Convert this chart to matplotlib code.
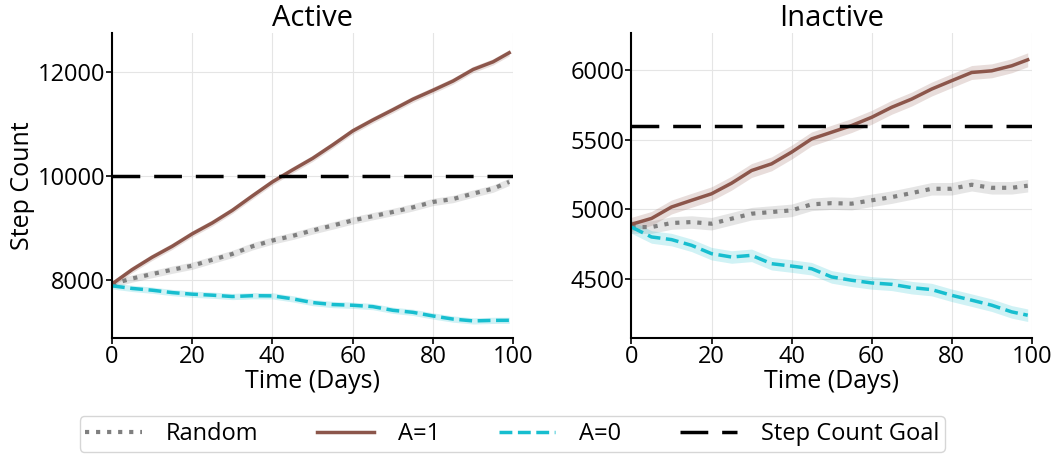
import matplotlib
matplotlib.use('Agg')
import matplotlib.pyplot as plt
import numpy as np

plt.rcParams['font.family'] = ['Open Sans', 'DejaVu Sans']

days = [0, 5, 10, 15, 20, 25, 30, 35, 40, 45, 50, 55, 60, 65, 70, 75, 80, 85, 90, 95, 99]

# Active group
act_random = [7923, 8030, 8116, 8200, 8277, 8390, 8503, 8650, 8761, 8850, 8955, 9050, 9148,
              9230, 9310, 9400, 9503, 9560, 9664, 9760, 9890]
act_a1 = [7923, 8200, 8439, 8650, 8890, 9100, 9342, 9620, 9890, 10120, 10342, 10600, 10870,
          11080, 11277, 11480, 11652, 11830, 12052, 12200, 12374]
act_a0 = [7890, 7840, 7806, 7760, 7729, 7710, 7684, 7700, 7697, 7640, 7568, 7530, 7516,
          7490, 7419, 7380, 7310, 7250, 7215, 7225, 7226]
act_goal = 10000

# Inactive group
ina_random = [4873, 4873, 4902, 4909, 4897, 4933, 4969, 4981, 4993, 5036, 5045, 5041, 5065,
              5088, 5117, 5148, 5148, 5177, 5155, 5155, 5170]
ina_a1 = [4893, 4935, 5017, 5065, 5112, 5188, 5279, 5327, 5411, 5506, 5554, 5602, 5661,
          5733, 5792, 5864, 5924, 5983, 5995, 6031, 6074]
ina_a0 = [4873, 4802, 4783, 4742, 4682, 4658, 4670, 4610, 4593, 4574, 4515, 4491, 4472,
          4462, 4438, 4424, 4383, 4348, 4312, 4264, 4240]
ina_goal = 5600

# confidence band half-widths (estimated)
act_ci = {'random': 70, 'a1': 60, 'a0': 60}
ina_ci = {'random': 45, 'a1': 50, 'a0': 45}

panels = [
    ('Active', act_random, act_a1, act_a0, act_goal, act_ci, [8000, 10000, 12000], (6885, 12750)),
    ('Inactive', ina_random, ina_a1, ina_a0, ina_goal, ina_ci, [4500, 5000, 5500, 6000], (4076, 6265)),
]

fig = plt.figure(figsize=(10.56, 4.55), dpi=100)
ax1 = fig.add_axes([0.106, 0.257, 0.380, 0.670])
ax2 = fig.add_axes([0.598, 0.257, 0.379, 0.670])

x = np.array(days)
handles = []
for ax, (title, r, a1, a0, goal, ci, yt, yl) in zip([ax1, ax2], panels):
    r, a1, a0 = np.array(r), np.array(a1), np.array(a0)
    ax.fill_between(x, r - ci['random'], r + ci['random'], color='#7f7f7f', alpha=0.2, lw=0)
    ax.fill_between(x, a1 - ci['a1'], a1 + ci['a1'], color='#8c564b', alpha=0.2, lw=0)
    ax.fill_between(x, a0 - ci['a0'], a0 + ci['a0'], color='#17becf', alpha=0.2, lw=0)
    h1, = ax.plot(x, r, color='#7f7f7f', ls=':', lw=3, label='Random')
    h2, = ax.plot(x, a1, color='#8c564b', ls='-', lw=2.5, label='A=1')
    h3, = ax.plot(x, a0, color='#17becf', ls='--', lw=2.5, label='A=0')
    h4 = ax.axhline(goal, color='black', ls=(0, (8, 4)), lw=2.5, label='Step Count Goal')
    handles = [h1, h2, h3, h4]
    ax.set_title(title, fontsize=21, pad=1)
    ax.set_xlim(0, 100)
    ax.set_ylim(*yl)
    ax.set_xticks([0, 20, 40, 60, 80, 100])
    ax.set_yticks(yt)
    ax.tick_params(labelsize=17, length=4, width=1.2, pad=1)
    ax.grid(True, color='#e5e5e5', lw=0.8)
    ax.set_axisbelow(True)
    for s in ['top', 'right']:
        ax.spines[s].set_visible(False)
    for s in ['left', 'bottom']:
        ax.spines[s].set_linewidth(1.5)
    ax.set_xlabel('Time (Days)', fontsize=18, labelpad=0)

ax1.set_ylabel('Step Count', fontsize=18, labelpad=2)

fig.legend(handles=handles, loc='center', bbox_to_anchor=(0.485, 0.046), ncol=4,
           fontsize=17, frameon=True, handlelength=2.4, handletextpad=1.0,
           columnspacing=2.5, borderpad=0.25, fancybox=True)

fig.savefig('out.png', dpi=100)
